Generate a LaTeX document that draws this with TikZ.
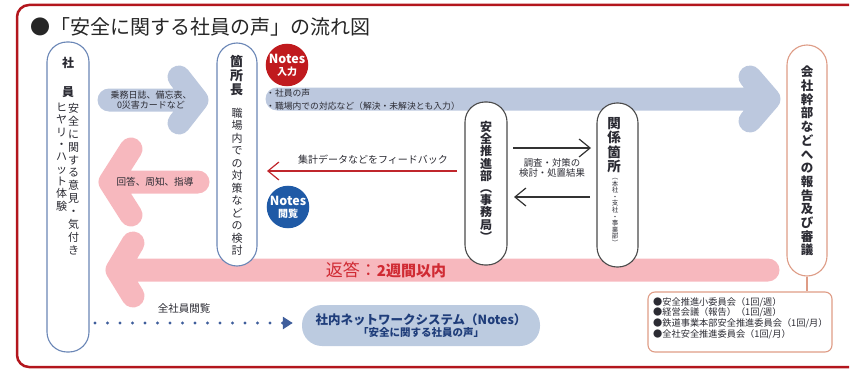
\documentclass[tikz,border=0pt]{standalone}
\usepackage{fontspec}
\setmainfont{Noto Sans CJK JP}
\usetikzlibrary{arrows.meta}
\definecolor{framered}{HTML}{B3161D}
\definecolor{bandblue}{HTML}{BCC8DE}
\definecolor{bandpink}{HTML}{F7B8BE}
\definecolor{pillblue}{HTML}{6A86B6}
\definecolor{pillgray}{HTML}{4A4A4A}
\definecolor{pillsalmon}{HTML}{DE9C86}
\definecolor{notesred}{HTML}{C01A1E}
\definecolor{notesblue}{HTML}{1F5AA6}
\definecolor{netfill}{HTML}{BCCBE0}
\definecolor{nettext}{HTML}{1F3D7A}
\definecolor{txt}{HTML}{2B2B33}
\definecolor{redtxt}{HTML}{D02A33}
\definecolor{fbred}{HTML}{C0262C}
\definecolor{dotblue}{HTML}{3F5E9C}
\newcommand\vtEND{}
\newcommand\vt[1]{\vtA#1\vtEND}
\def\vtA#1{#1\vtB}
\def\vtB#1{\ifx\vtEND#1\else\\#1\expandafter\vtB\fi}
\tikzset{
  vtext/.style={anchor=north, inner sep=0pt, align=center, text=txt},
  txtc/.style={inner sep=0pt, align=center, text=txt},
  pill/.style={draw=#1, fill=white, line width=1.1pt, rounded corners=20pt, inner sep=0pt},
  fatblue/.style={draw=bandblue, line width=23pt, line cap=round, line join=round},
  fatpink/.style={draw=bandpink, line width=23pt, line cap=round, line join=round},
  thinarrow/.style={line width=1.2pt, -{Straight Barb[length=11pt,width=18pt]}},
  notes/.style={circle, fill=#1, minimum size=40pt, inner sep=0pt, text=white, align=center, font=\bfseries},
  frame/.style={draw=framered, line width=2.5pt, rounded corners=12pt}
}
\begin{document}
\begin{tikzpicture}[x=1pt,y=-1pt]
\useasboundingbox (0,0) rectangle (851,369);
% frame
\draw[frame] (849,5) -- (17,5) -- (17,367) -- (849,367);
\node[anchor=west, inner sep=0pt, font=\fontsize{20}{24}\selectfont, text=black!85] (title) at (30,27) {●「安全に関する社員の声」の流れ図};
% bands
\coordinate (b1s) at (109,100); \coordinate (b1t) at (197,100);
\coordinate (b1u) at (179,77); \coordinate (b1d) at (179,123);
\draw[fatblue] (b1s) -- (b1t) (b1u) -- (b1t) -- (b1d);
\coordinate (b2s) at (277,99); \coordinate (b2t) at (769,99);
\coordinate (b2u) at (750,77); \coordinate (b2d) at (750,121);
\draw[fatblue] (b2s) -- (b2t) (b2u) -- (b2t) -- (b2d);
\coordinate (p1s) at (198,182); \coordinate (p1t) at (110,182);
\coordinate (p1u) at (131,149); \coordinate (p1d) at (131,215);
\draw[fatpink] (p1s) -- (p1t) (p1u) -- (p1t) -- (p1d);
\coordinate (p2s) at (768,270); \coordinate (p2t) at (117,270);
\coordinate (p2u) at (133,243); \coordinate (p2d) at (133,296);
\draw[fatpink] (p2s) -- (p2t) (p2u) -- (p2t) -- (p2d);
% pills
\node[pill=pillblue, minimum width=42pt, minimum height=310pt] (shain) at (68,197) {};
\node[pill=pillblue, minimum width=40pt, minimum height=223pt] (kasho) at (237,154.5) {};
\node[pill=pillgray, minimum width=42pt, minimum height=163pt] (suishin) at (486,183.5) {};
\node[pill=pillgray, minimum width=41pt, minimum height=164pt] (kankei) at (617.5,185) {};
\node[pill=pillsalmon, minimum width=40pt, minimum height=231pt] (kanbu) at (807,160.5) {};
\node[draw=pillsalmon, line width=1.1pt, rounded corners=7pt, minimum width=184pt, minimum height=60pt, inner sep=0pt] (iinkai) at (740,322) {};
\draw[pillsalmon, line width=1.1pt] (kanbu.south) -- (kanbu.south |- iinkai.north);
% pill texts
\node[txtc, font=\fontsize{12}{14}\selectfont\bfseries] (sh1) at (68,62.5) {社};
\node[txtc, font=\fontsize{12}{14}\selectfont\bfseries] (sh2) at (68,92) {員};
\node[vtext, font=\fontsize{11}{12.9}\selectfont] (sh3) at (73.5,103) {\vt{安全に関する意見・気付き}};
\node[vtext, font=\fontsize{11}{12.3}\selectfont] (sh4) at (61.5,103) {\vt{ヒヤリ・ハット体験}};
\node[vtext, font=\fontsize{13}{14}\selectfont\bfseries] (ks1) at (236.5,55) {\vt{箇所長}};
\node[vtext, font=\fontsize{11}{12.5}\selectfont] (ks2) at (237,108) {\vt{職場内での対策などの検討}};
\node[vtext, font=\fontsize{12}{12.2}\selectfont\bfseries] (ss1) at (486,121) {\vt{安全推進部︵事務局︶}};
\node[vtext, font=\fontsize{13.5}{14.5}\selectfont\bfseries] (kk1) at (614,117) {\vt{関係箇所}};
\node[vtext, font=\fontsize{6.5}{6.6}\selectfont] (kk2) at (615,178) {\vt{︵本社・支社・事業部︶}};
\node[vtext, font=\fontsize{12.5}{13.7}\selectfont\bfseries] (kb1) at (807,66) {\vt{会社幹部などへの報告及び審議}};
% notes circles
\node[notes=notesred] (nin) at (287,65) {{\fontsize{12.5}{12}\selectfont Notes}\\{\fontsize{10}{10}\selectfont 入力}};
\node[notes=notesblue] (nview) at (288,207) {{\fontsize{12.5}{12}\selectfont Notes}\\{\fontsize{10}{10}\selectfont 閲覧}};
% band texts
\node[txtc, font=\fontsize{9}{10.5}\selectfont] (t1) at (151,100) {乗務日誌、備忘表、\\0災害カードなど};
\node[anchor=west, inner sep=0pt, align=left, text=txt, font=\fontsize{8.8}{13}\selectfont] (t2) at (266,99.5) {・社員の声\\・職場内での対応など（解決・未解決とも入力）};
\node[txtc, font=\fontsize{9.6}{11}\selectfont] (t3) at (155,182) {回答、周知、指導};
\node[inner sep=0pt, text=redtxt] (t6) at (386,270) {{\fontsize{17}{19}\selectfont 返答：}{\fontsize{15}{17}\selectfont\bfseries 2週間以内}};
% thin arrows
\coordinate (fbs) at (457,171); \coordinate (fbt) at (267,171);
\draw[thinarrow, fbred] (fbs) -- (fbt);
\node[txtc, font=\fontsize{10}{12}\selectfont] (t4) at (373,160) {集計データなどをフィードバック};
\coordinate (r1s) at (513,148); \coordinate (r1t) at (591,148);
\draw[thinarrow, black!80] (r1s) -- (r1t);
\coordinate (r2s) at (590,197); \coordinate (r2t) at (514,197);
\draw[thinarrow, black!80] (r2s) -- (r2t);
\node[txtc, font=\fontsize{9.4}{10}\selectfont] (t5) at (552,167.5) {調査・対策の\\検討・処置結果};
% network
\node[fill=netfill, rounded corners=20pt, minimum width=238pt, minimum height=41pt, align=center, text=nettext, inner sep=0pt, font=\bfseries] (net) at (421,325.5) {{\fontsize{12.5}{13.5}\selectfont 社内ネットワークシステム（Notes）}\\{\fontsize{10.5}{12}\selectfont 「安全に関する社員の声」}};
\coordinate (dots) at (95,323);
\draw[dotblue, line width=3.4pt, line cap=round, dash pattern=on 0pt off 12.5pt, shorten >=9pt, -{Triangle[length=10pt,width=12pt]}] (dots) -- (dots -| net.west);
\node[txtc, font=\fontsize{10.5}{12}\selectfont] (t7) at (184,309) {全社員閲覧};
% committee text
\node[anchor=west, inner sep=0pt, align=left, text=txt, font=\fontsize{9.2}{10.7}\selectfont] (it) at (653,318) {●安全推進小委員会（1回/週）\\●経営会議（報告）（1回/週）\\●鉄道事業本部安全推進委員会（1回/月）\\●全社安全推進委員会（1回/月）};
\end{tikzpicture}
\end{document}
